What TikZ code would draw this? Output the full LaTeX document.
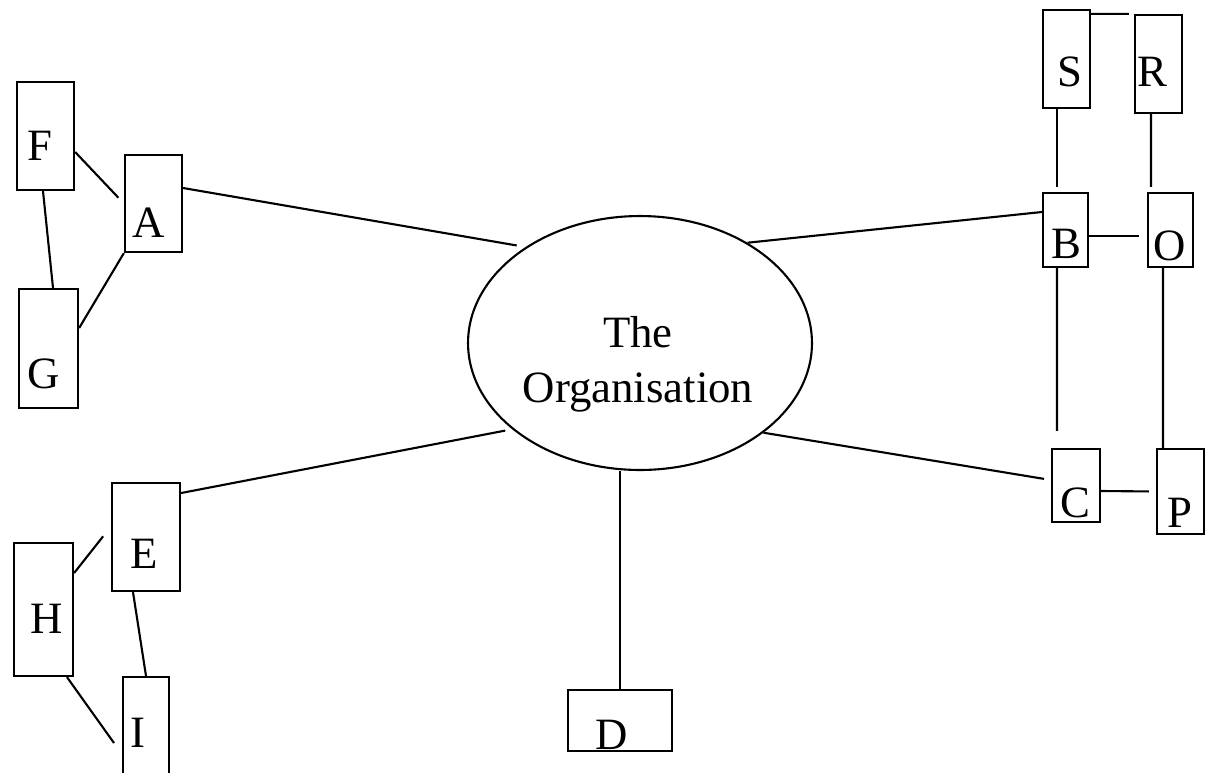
\documentclass[tikz,border=0pt]{standalone}
\usepackage{fontspec}
\setmainfont{Liberation Serif}
\usetikzlibrary{shapes.geometric}

\begin{document}
\begin{tikzpicture}[x=0.02cm, y=-0.02cm,
    box/.style={rectangle, draw=black, line width=1.3pt, inner sep=0pt},
    hub/.style={ellipse, draw=black, line width=1.2pt, inner sep=0pt, minimum width=6.88cm, minimum height=5.08cm},
    letter/.style={anchor=base, inner sep=0pt, font=\fontsize{25.5}{31}\selectfont},
    link/.style={line width=1.2pt}
]
\useasboundingbox (0,0) rectangle (1207,772);

% The Organisation
\node[hub] (org) at (640,343) {};
\node[letter, align=center, font=\fontsize{25.5}{31.3}\selectfont] (orgtxt) at (638,402) {The\\Organisation};

% Upper left group
\node[box, minimum width=1.14cm, minimum height=2.16cm] (F) at (45.5,136) {};
\node[box, minimum width=1.14cm, minimum height=1.94cm] (A) at (153.5,203.5) {};
\node[box, minimum width=1.18cm, minimum height=2.38cm] (G) at (48.5,348.5) {};
\node[letter] (Ft) at (40,160) {F};
\node[letter] (At) at (149,237) {A};
\node[letter] (Gt) at (44,388) {G};

% Lower left group
\node[box, minimum width=1.36cm, minimum height=2.16cm] (E) at (146,537) {};
\node[box, minimum width=1.18cm, minimum height=2.66cm] (H) at (43.5,609.5) {};
\node[box, minimum width=0.92cm, minimum height=2.46cm] (I) at (146,738.5) {};
\node[letter] (Et) at (144,568) {E};
\node[letter] (Ht) at (47,633) {H};
\node[letter] (It) at (138,747) {I};

% Bottom
\node[box, minimum width=2.08cm, minimum height=1.22cm] (D) at (620,720.5) {};
\node[letter] (Dt) at (612,749) {D};

% Right group
\node[box, minimum width=0.94cm, minimum height=1.96cm] (S) at (1066.5,59) {};
\node[box, minimum width=0.94cm, minimum height=1.96cm] (R) at (1158.5,64) {};
\node[box, minimum width=0.90cm, minimum height=1.48cm] (B) at (1065.5,230) {};
\node[box, minimum width=0.90cm, minimum height=1.48cm] (O) at (1170.5,230) {};
\node[box, minimum width=0.96cm, minimum height=1.46cm] (C) at (1076,485.5) {};
\node[box, minimum width=0.94cm, minimum height=1.70cm] (P) at (1180.5,491.5) {};
\node[letter] (St) at (1070,86) {S};
\node[letter] (Rt) at (1152,86) {R};
\node[letter] (Bt) at (1066,258) {B};
\node[letter] (Ot) at (1170,260) {O};
\node[letter] (Ct) at (1075,517) {C};
\node[letter] (Pt) at (1180,527) {P};

% Links to the organisation
\draw[link, shorten >=0.18cm] ([yshift=0.31cm]A.east) -- (org.140);
\draw[link, shorten >=0.14cm] ([yshift=0.88cm]E.east) -- (org.214);
\draw[link] (org.43) -- ([yshift=0.36cm]B.west);
\draw[link, shorten >=0.14cm] (org.-36) -- ([yshift=0.11cm]C.west);
\draw[link] (D.north) -- (D.north |- org.south);

% Links inside the groups
\draw[link, shorten >=0.16cm] ([yshift=-0.32cm]F.east) -- (A.west);
\draw[link] ([xshift=-0.05cm]F.south) -- ([xshift=0.09cm]G.north);
\draw[link] (A.south west) -- ([yshift=0.41cm]G.east);
\draw[link, shorten >=0.25cm] ([yshift=0.73cm]H.east) -- ([yshift=0.21cm]E.west);
\draw[link] ([xshift=-0.26cm]E.south) -- (I.north);
\draw[link, shorten >=0.27cm] ([xshift=0.47cm]H.south) -- ([yshift=-0.31cm]I.west);
\draw[link, shorten >=0.1cm] ([yshift=-0.1cm]S.north east) -- (R.north west);
\draw[link, shorten >=0.1cm] ([xshift=-0.19cm]S.south) -- ([xshift=-0.17cm]B.north);
\draw[link, shorten >=0.1cm] ([xshift=-0.15cm]R.south) -- ([xshift=-0.39cm]O.north);
\draw[link, shorten >=0.16cm] ([yshift=-0.12cm]B.east) -- ([yshift=-0.12cm]O.west);
\draw[link, shorten >=0.34cm] ([xshift=-0.17cm]B.south) -- ([xshift=-0.38cm]C.north);
\draw[link] ([xshift=-0.15cm]O.south) -- ([xshift=-0.35cm]P.north);
\draw[link, shorten >=0.14cm] ([yshift=-0.11cm]C.east) -- (P.west);

\end{tikzpicture}
\end{document}
